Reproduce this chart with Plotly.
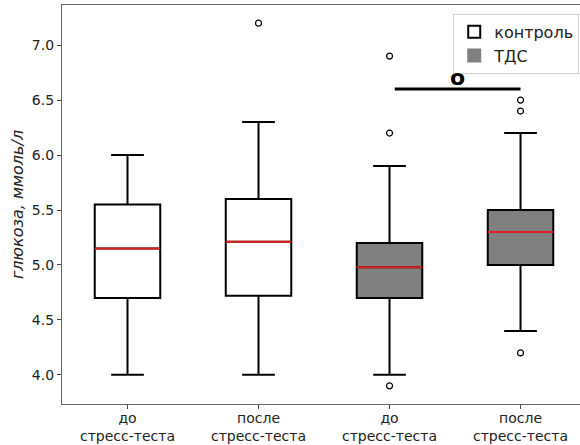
import plotly.graph_objects as go

# data
positions = [1, 2, 3, 4]
tick_labels = ["до<br>стресс-теста", "после<br>стресс-теста", "до<br>стресс-теста", "после<br>стресс-теста"]
groups = ["контроль", "контроль", "ТДС", "ТДС"]
q1 = [4.70, 4.72, 4.70, 5.00]
median = [5.15, 5.21, 4.98, 5.30]
q3 = [5.55, 5.60, 5.20, 5.50]
lower = [4.00, 4.00, 4.00, 4.40]
upper = [6.00, 6.30, 5.90, 6.20]
outliers = [[], [7.2], [6.9, 6.2, 3.9], [6.5, 6.4, 4.2]]
sig_x = [3.04, 4.0]
sig_y = 6.6
sig_label = "o"

fill = {"контроль": "white", "ТДС": "#808080"}
BW = 0.5

fig = go.Figure()
for i, p in enumerate(positions):
    fig.add_trace(go.Box(
        x=[p], q1=[q1[i]], median=[median[i]], q3=[q3[i]],
        lowerfence=[lower[i]], upperfence=[upper[i]],
        width=BW, whiskerwidth=0.5, fillcolor=fill[groups[i]],
        line=dict(color="black", width=2), boxpoints=False,
        showlegend=False, hoverinfo="skip"))
    # red median line
    fig.add_trace(go.Scatter(
        x=[p - BW / 2, p + BW / 2], y=[median[i], median[i]], mode="lines",
        line=dict(color="#e02020", width=2), showlegend=False, hoverinfo="skip"))
    if outliers[i]:
        fig.add_trace(go.Scatter(
            x=[p] * len(outliers[i]), y=outliers[i], mode="markers",
            marker=dict(symbol="circle-open", size=6, color="black", line=dict(width=1.2)),
            showlegend=False, hoverinfo="skip"))

# significance bar
fig.add_trace(go.Scatter(x=sig_x, y=[sig_y, sig_y], mode="lines",
                         line=dict(color="black", width=3), showlegend=False, hoverinfo="skip"))
fig.add_annotation(x=(sig_x[0] + sig_x[1]) / 2, y=sig_y, text="<b>" + sig_label + "</b>",
                   showarrow=False, yanchor="middle", yshift=12,
                   font=dict(size=22, color="black", family="DejaVu Sans"))

# legend entries
for name in ["контроль", "ТДС"]:
    fig.add_trace(go.Bar(x=[None], y=[None], name=name,
                         marker=dict(color=fill[name],
                                     line=dict(color="black" if name == "контроль" else "#808080", width=1))))

fig.update_layout(
    width=580, height=445,
    margin=dict(l=62, r=0, t=5, b=41),
    paper_bgcolor="white", plot_bgcolor="white",
    font=dict(family="DejaVu Sans", size=14, color="#222"),
    legend=dict(x=0.9985, y=0.978, xanchor="right", yanchor="top",
                bordercolor="#d0d0d0", borderwidth=1, bgcolor="white",
                font=dict(size=16), itemsizing="constant", tracegroupgap=4),
)
fig.update_xaxes(range=[0.5, 4.454], tickvals=positions, ticktext=tick_labels,
                 showgrid=False, zeroline=False, showline=True, mirror=True,
                 linecolor="#666", linewidth=1.2, ticks="outside", ticklen=4,
                 tickcolor="#444", tickfont=dict(size=14), automargin=False,
                 ticklabelstandoff=-3)
fig.update_yaxes(range=[3.735, 7.365], tickvals=[4.0, 4.5, 5.0, 5.5, 6.0, 6.5, 7.0],
                 tickformat=".1f", showgrid=False, zeroline=False, showline=True,
                 linecolor="#666", linewidth=1.2, ticks="outside", ticklen=4,
                 tickcolor="#444", tickfont=dict(size=14), automargin=False,
                 title=dict(text="<i>глюкоза, ммоль/л</i>", font=dict(size=16), standoff=4))

fig.write_html("out.html", config={"displayModeBar": False},
               post_script="document.body.style.margin='0';document.body.style.overflow='hidden';")
